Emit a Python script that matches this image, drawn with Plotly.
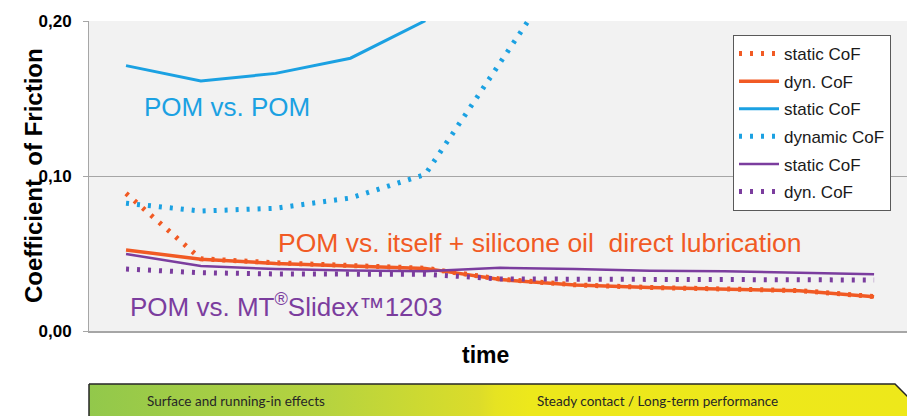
import plotly.graph_objects as go

# ---- data ----
time_points = list(range(11))  # equally spaced measurement times (no labels shown)

pom_itself_static = [0.0888, 0.0466, 0.0440, 0.0420, 0.0405, 0.0335, 0.0298, 0.0281, 0.0272, 0.0261, 0.0222]
pom_itself_dynamic = [0.0523, 0.0463, 0.0436, 0.0418, 0.0404, 0.0332, 0.0296, 0.0280, 0.0271, 0.0260, 0.0221]
pom_pom_static = [0.1712, 0.1613, 0.1662, 0.1760, 0.2002, None, None, None, None, None, None]
pom_pom_dynamic = [0.0824, 0.0774, 0.0792, 0.0858, 0.1010, 0.1730, 0.2450, None, None, None, None]
pom_slidex_static = [0.0497, 0.0419, 0.0400, 0.0390, 0.0385, 0.0408, 0.0400, 0.0389, 0.0385, 0.0376, 0.0366]
pom_slidex_dynamic = [0.0400, 0.0376, 0.0368, 0.0370, 0.0366, 0.0336, 0.0338, 0.0333, 0.0332, 0.0330, 0.0329]

y_tick_vals = [0.0, 0.1, 0.2]
y_tick_text = ["0,00", "0,10", "0,20"]

legend_names = ["static CoF", "dyn. CoF", "static CoF", "dynamic CoF", "static CoF", "dyn. CoF"]

# bottom arrow outline (pixel-like units of a helper axis)
arrow_x = [89, 895, 936, 936, 89, 89]
arrow_y = [32, 32, -9, -9, -9, 32]

ORANGE = "#f15a24"
BLUE = "#1ba1e2"
PURPLE = "#7b3d9e"
DOT = "3px,8px"

fig = go.Figure()

series = [
    (pom_itself_static, ORANGE, DOT, 5),
    (pom_itself_dynamic, ORANGE, "solid", 3.5),
    (pom_pom_static, BLUE, "solid", 3),
    (pom_pom_dynamic, BLUE, DOT, 5),
    (pom_slidex_static, PURPLE, "solid", 2.5),
    (pom_slidex_dynamic, PURPLE, DOT, 5),
]
for i, (vals, col, dash, w) in enumerate(series):
    fig.add_trace(go.Scatter(
        x=time_points, y=vals, mode="lines", name=legend_names[i],
        line=dict(color=col, dash=dash, width=w),
        legendgroup=f"g{i}", connectgaps=False,
    ))

# gradient arrow at the bottom
fig.add_trace(go.Scatter(
    x=arrow_x, y=arrow_y, xaxis="x2", yaxis="y2", mode="lines",
    fill="toself", showlegend=False, hoverinfo="skip",
    line=dict(color="#262626", width=1.5),
    fillgradient=dict(type="horizontal", colorscale=[
        [0.0, "#92c84b"], [0.28, "#b6d33f"], [0.42, "#d3db2e"],
        [0.46, "#dcdc2a"], [0.48, "#e6e322"], [0.52, "#ede81b"], [1.0, "#eee81a"]]),
))

fig.update_layout(
    width=907, height=416,
    margin=dict(l=0, r=0, t=0, b=0, autoexpand=False),
    paper_bgcolor="white",
    plot_bgcolor="rgba(0,0,0,0)",
    font=dict(family="Arial", color="black"),
    showlegend=True,
    legend=dict(
        x=733 / 907, y=(416 - 35) / 416, xanchor="left", yanchor="top",
        bgcolor="white", bordercolor="#595959", borderwidth=1,
        font=dict(size=17, family="Arial", color="#1a1a1a"),
        tracegroupgap=2.5, traceorder="grouped", itemwidth=40,
    ),
    xaxis=dict(
        domain=[89 / 907, 1], range=[-0.495, 10.44],
        showgrid=False, showticklabels=False, zeroline=False,
        showline=True, linecolor="#a6a6a6", linewidth=1.5, ticks="",
    ),
    yaxis=dict(
        domain=[85 / 416, 395 / 416], range=[0, 0.2],
        tickvals=y_tick_vals, ticktext=y_tick_text,
        tickfont=dict(size=17, family="Arial", weight="bold", color="black"),
        showgrid=True, gridcolor="#a6a6a6", gridwidth=1,
        zeroline=False, showline=True, linecolor="#a6a6a6", linewidth=1,
        ticks="outside", ticklen=5, tickcolor="#a6a6a6",
        ticklabelstandoff=8,
    ),
    xaxis2=dict(domain=[0, 1], range=[0, 907], visible=False, anchor="y2"),
    yaxis2=dict(domain=[0, 41 / 416], range=[0, 41], visible=False, anchor="x2"),
    shapes=[dict(type="rect", xref="x domain", yref="y domain", x0=0, x1=1, y0=0, y1=1,
                 fillcolor="#f2f2f2", line=dict(width=0), layer="below")],
)

annos = [
    dict(text="POM vs. POM", x=0.214, y=0.1445, xref="x", yref="y",
         xanchor="left", yanchor="middle", showarrow=False,
         font=dict(size=26, color=BLUE, family="Arial")),
    dict(text="POM vs. itself + silicone oil\u00a0 direct lubrication", x=2.01, y=0.0568,
         xref="x", yref="y", xanchor="left", yanchor="middle", showarrow=False,
         font=dict(size=26.5, color=ORANGE, family="Arial")),
    dict(text="POM vs. MT<sup>®</sup>Slidex™1203", x=0.027, y=0.0165,
         xref="x", yref="y", xanchor="left", yanchor="middle", showarrow=False,
         font=dict(size=26, color=PURPLE, family="Arial")),
    dict(text="time", x=485 / 907, y=(416 - 355) / 416, xref="paper", yref="paper",
         xanchor="center", yanchor="middle", showarrow=False,
         font=dict(size=23, color="black", family="Arial", weight="bold")),
    dict(text="Coefficient\u00a0 of Friction", x=33 / 907, y=(416 - 176) / 416,
         xref="paper", yref="paper", xanchor="center", yanchor="middle",
         textangle=-90, showarrow=False,
         font=dict(size=24, color="black", family="Arial", weight="bold")),
    dict(text="Surface and running-in effects", x=236 / 907, y=(416 - 401) / 416,
         xref="paper", yref="paper", xanchor="center", yanchor="middle", showarrow=False,
         font=dict(size=13.5, color="#262626", family="Lato")),
    dict(text="Steady contact / Long-term performance", x=657 / 907, y=(416 - 401) / 416,
         xref="paper", yref="paper", xanchor="center", yanchor="middle", showarrow=False,
         font=dict(size=13.5, color="#262626", family="Lato")),
]
fig.update_layout(annotations=annos)

fig.write_html("out.html", config={"displayModeBar": False},
               post_script="document.body.style.margin='0';")
